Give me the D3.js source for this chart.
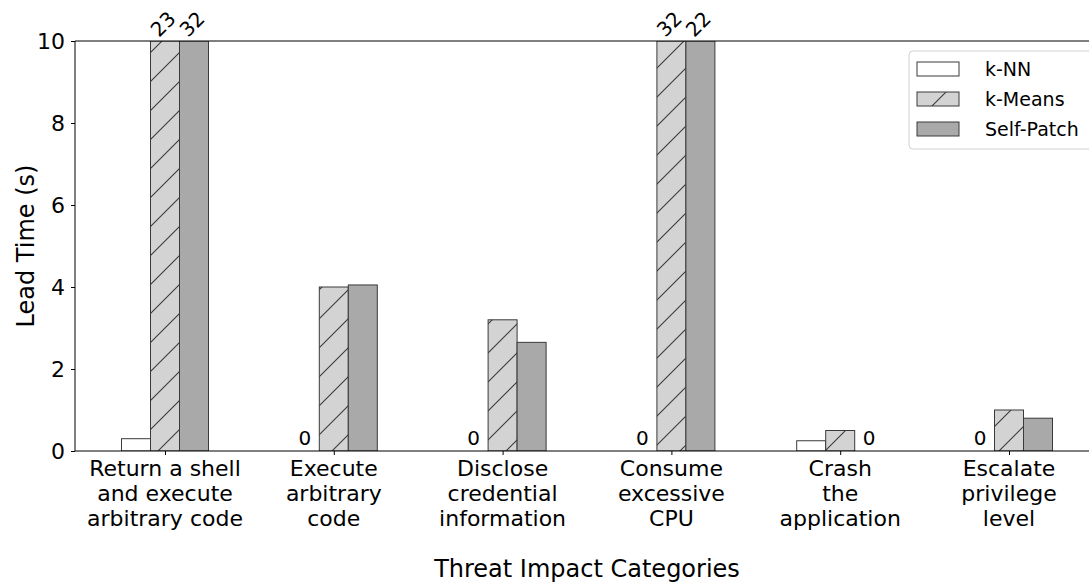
<!DOCTYPE html>
<html>
<head>
<meta charset="utf-8">
<script src="https://cdn.jsdelivr.net/npm/d3@7"></script>
<style>
  html, body { margin: 0; padding: 0; background: #fff; }
  svg { display: block; font-family: "DejaVu Sans", sans-serif; }
</style>
</head>
<body>
<div id="chart"></div>
<script>
const CATEGORIES = [
  ["Return a shell", "and execute", "arbitrary code"],
  ["Execute", "arbitrary", "code"],
  ["Disclose", "credential", "information"],
  ["Consume", "excessive", "CPU"],
  ["Crash", "the", "application"],
  ["Escalate", "privilege", "level"],
];
const SERIES = ["k-NN", "k-Means", "Self-Patch"];
const KNN = [0.3, 0, 0, 0, 0.25, 0];
const KMEANS = [23, 4.0, 3.2, 32, 0.5, 1.0];
const SELF_PATCH = [32, 4.05, 2.65, 22, 0, 0.8];
const Y_TICKS = [0, 2, 4, 6, 8, 10];

const WIDTH = 1089;
const HEIGHT = 584;
const PLOT = { left: 75, top: 41, bottom: 451 };

const FILLS = { "k-NN": "#ffffff", "k-Means": "#d3d3d3", "Self-Patch": "#a9a9a9" };
const EDGE = "#3a3a3a";

const values = { "k-NN": KNN, "k-Means": KMEANS, "Self-Patch": SELF_PATCH };
const bars = [];
CATEGORIES.forEach((cat, i) => {
  SERIES.forEach((s) => bars.push({ i, series: s, value: values[s][i] }));
});

const svg = d3.select("#chart").append("svg")
  .attr("width", WIDTH).attr("height", HEIGHT);

// hatch pattern for k-Means
const defs = svg.append("defs");
const hatch = defs.append("pattern")
  .attr("id", "hatch").attr("patternUnits", "userSpaceOnUse")
  .attr("width", 29).attr("height", 29);
hatch.append("rect").attr("width", 29).attr("height", 29).attr("fill", FILLS["k-Means"]);
hatch.append("path").attr("d", "M-1,30 L30,-1 M-8,8 L8,-8 M21,37 L37,21")
  .attr("stroke", EDGE).attr("stroke-width", 1.1);

const x = d3.scaleLinear().domain([0, 5]).range([165, 1009]);
const xRight = x(5.533);
const offset = d3.scaleBand().domain(SERIES).range([-43.5, 43.5]);
const y = d3.scaleLinear().domain([0, 10]).range([PLOT.bottom, PLOT.top]).clamp(true);

const clip = defs.append("clipPath").attr("id", "plot-clip");
clip.append("rect").attr("x", PLOT.left).attr("y", PLOT.top)
  .attr("width", xRight - PLOT.left).attr("height", PLOT.bottom - PLOT.top);

// bars
svg.append("g").attr("clip-path", "url(#plot-clip)")
  .selectAll("rect").data(bars).join("rect")
  .attr("x", (d) => x(d.i) + offset(d.series))
  .attr("y", (d) => y(d.value))
  .attr("width", offset.bandwidth())
  .attr("height", (d) => y(0) - y(d.value))
  .attr("fill", (d) => d.series === "k-Means" ? "url(#hatch)" : FILLS[d.series])
  .attr("stroke", EDGE).attr("stroke-width", 1);

// axes
const xAxis = svg.append("g").attr("transform", `translate(0,${PLOT.bottom})`)
  .call(d3.axisBottom(x).tickValues(d3.range(CATEGORIES.length)).tickSize(4).tickFormat(""));
xAxis.select(".domain").attr("d", `M${PLOT.left},0H${xRight}`).attr("stroke", "#000");
xAxis.selectAll(".tick line").attr("stroke", "#000");

const yAxis = svg.append("g").attr("transform", `translate(${PLOT.left},0)`)
  .call(d3.axisLeft(y).tickValues(Y_TICKS).tickSize(4).tickPadding(6));
yAxis.select(".domain").attr("d", `M0,${PLOT.bottom}V${PLOT.top}`).attr("stroke", "#000");
yAxis.selectAll(".tick line").attr("stroke", "#000");
yAxis.selectAll(".tick text").attr("font-size", 22).attr("font-family", "DejaVu Sans").attr("fill", "#000");

svg.append("line").attr("x1", PLOT.left).attr("x2", xRight)
  .attr("y1", PLOT.top).attr("y2", PLOT.top).attr("stroke", "#000");

// category labels
const catLabels = svg.append("g").selectAll("text").data(CATEGORIES).join("text")
  .attr("x", (d, i) => x(i)).attr("y", 476)
  .attr("text-anchor", "middle").attr("font-size", 22).attr("fill", "#000");
catLabels.selectAll("tspan").data((d) => d).join("tspan")
  .attr("x", function () { return d3.select(this.parentNode).attr("x"); })
  .attr("dy", (d, j) => j === 0 ? 0 : 25)
  .text((d) => d);

// zero labels
svg.append("g").selectAll("text").data(bars.filter((d) => d.value === 0)).join("text")
  .attr("x", (d) => x(d.i) + offset(d.series) + offset.bandwidth() / 2)
  .attr("y", PLOT.bottom - 6)
  .attr("text-anchor", "middle").attr("font-size", 20).text("0");

// overflow labels
svg.append("g").selectAll("text").data(bars.filter((d) => d.value > 10)).join("text")
  .attr("transform", (d) => `translate(${x(d.i) + offset(d.series) + offset.bandwidth() / 2 - 2},24) rotate(-45)`)
  .attr("text-anchor", "middle").attr("dominant-baseline", "central")
  .attr("font-size", 20).text((d) => d.value);

// axis titles
svg.append("text").attr("x", 587).attr("y", 577)
  .attr("text-anchor", "middle").attr("font-size", 24).text("Threat Impact Categories");
svg.append("text").attr("transform", `translate(34,${(PLOT.top + PLOT.bottom) / 2}) rotate(-90)`)
  .attr("text-anchor", "middle").attr("font-size", 24).text("Lead Time (s)");

// legend
const legend = svg.append("g").attr("transform", "translate(909,51)");
legend.append("rect").attr("width", 190).attr("height", 98).attr("rx", 4)
  .attr("fill", "#fff").attr("fill-opacity", 0.8).attr("stroke", "#d0d0d0");
const item = legend.selectAll("g.item").data(SERIES).join("g")
  .attr("class", "item").attr("transform", (d, i) => `translate(8,${11 + i * 30})`);
item.append("rect").attr("width", 42).attr("height", 14)
  .attr("fill", (d) => d === "k-Means" ? "url(#hatch)" : FILLS[d])
  .attr("stroke", EDGE);
item.append("text").attr("x", 68).attr("y", 7).attr("dominant-baseline", "central")
  .attr("font-size", 19).text((d) => d);
</script>
</body>
</html>
